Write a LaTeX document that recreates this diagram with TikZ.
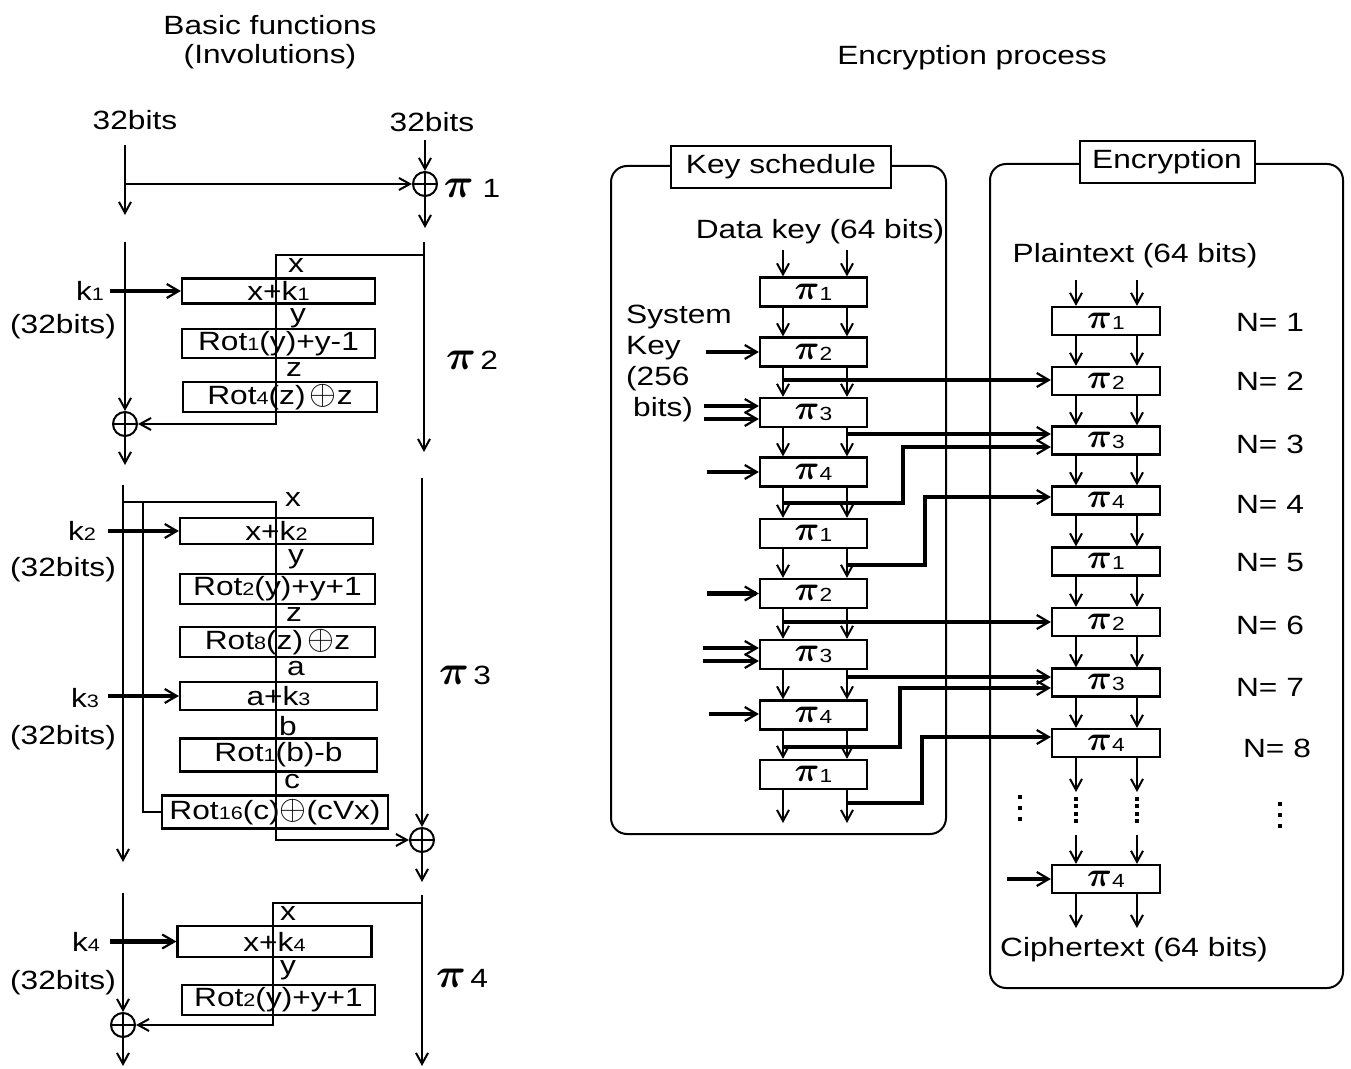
\documentclass[tikz,border=0pt]{standalone}
\usepackage{amsmath,bm}
\usepackage{fontspec}
\setmainfont{Liberation Sans}[FakeStretch=1.2]
\usetikzlibrary{arrows.meta,calc}
\newcommand{\sbd}[1]{{\fontsize{9}{9}\selectfont #1}}
\newcommand{\xop}{{\fontsize{17}{17}\selectfont$\oplus$}}
\newcommand{\pisym}{{\fontsize{20}{20}\selectfont$\bm{\pi}$}}
\newcommand{\pibox}{{\fontsize{19}{19}\selectfont$\bm{\pi}$}}
\newcommand{\boxpi}[1]{\pibox\raisebox{-0.5pt}{\fontsize{9.5}{9.5}\selectfont #1}}
\tikzset{
  every node/.style={font=\fontsize{13.2}{15.5}\selectfont, inner sep=0pt},
  ln/.style={line width=1pt},
  arr/.style={line width=1pt, -{Straight Barb[length=5.5pt,width=6pt]}},
  tarr/.style={line width=2.1pt, -{Straight Barb[length=6pt,width=7pt,line width=1.1pt]}},
  fbox/.style={draw, line width=1.1pt, inner sep=0pt},
  rbox/.style={draw, line width=1pt, rounded corners=8pt},
  tbox/.style={draw, line width=1pt, fill=white, minimum height=21pt},
  xor/.style={circle, draw, line width=1pt, minimum size=12pt,
    path picture={\draw[line width=1pt] (path picture bounding box.north) -- (path picture bounding box.south)
       (path picture bounding box.west) -- (path picture bounding box.east);}},
  dots/.style={line width=2pt, dash pattern=on 2pt off 3.5pt},
  dots4/.style={line width=2pt, dash pattern=on 2pt off 1.7pt},
}
\begin{document}
\begin{tikzpicture}[x=0.5pt,y=-0.5pt]
\useasboundingbox (0,0) rectangle (1351,1069);

% ---------- titles ----------
\node (t1) at (270,25) {Basic functions};
\node (t2) at (270,57) {(Involutions)};
\node (t3) at (972,58) {Encryption process};

% ---------- pi1 ----------
\node (b32l) at (135,120) {32bits};
\node (b32r) at (432,122) {32bits};
\node[xor] (x1) at (425,184) {};
\coordinate (a1) at (125,145);
\coordinate (a2) at (125,215);
\coordinate (a3) at (425,140);
\coordinate (a4) at (425,228);
\draw[arr] (a1) -- (a2);
\draw[arr] (a3) -- (x1.north);
\draw[arr] (x1.south) -- (a4);
\draw[arr] (a1 |- x1) -- (x1.west);
\node (pl1) at (472,188) {\pisym\ 1};

% ---------- pi2 ----------
\node[xor] (x2) at (125,424) {};
\coordinate (c1) at (125,242);
\coordinate (c2) at (125,465);
\coordinate (c3) at (424,242);
\coordinate (c4) at (424,452);
\coordinate (c5) at (424,255);
\coordinate (c6) at (276,255);
\draw[arr] (c1) -- (x2.north);
\draw[arr] (x2.south) -- (c2);
\draw[arr] (c3) -- (c4);
\node[fbox, minimum width=96.5pt, minimum height=12.5pt] (A1) at (278.5,291) {x+k\sbd{1}};
\node[fbox, minimum width=96.5pt, minimum height=14.5pt] (A2) at (278.5,343.5) {Rot\sbd{1}(y)+y-1};
\node[fbox, minimum width=97pt, minimum height=15pt] (A3) at (280,397) {Rot\sbd{4}(z)\,\xop z};
\draw[arr] (c5) -- (c6) -- (c6 |- x2) -- (x2.east);
\node (k1) at (90,291) {k\sbd{1}};
\coordinate (k1s) at (110,291);
\draw[tarr] (k1s) -- (A1.west);
\node (kb1) at (63,327) {(32bits)};
\node (lx2) at (296,266) {x};
\node (ly2) at (298,318) {y};
\node (lz2) at (294,370) {z};
\node (pl2) at (472,360) {\pisym\,2};

% ---------- pi3 ----------
\node[xor] (x3) at (422,840) {};
\coordinate (d1) at (123,485);
\coordinate (d2) at (123,862);
\coordinate (d3) at (422,478);
\coordinate (d4) at (422,882);
\coordinate (d5) at (123,502);
\coordinate (d6) at (276,502);
\coordinate (d7) at (143,502);
\draw[arr] (d1) -- (d2);
\draw[arr] (d3) -- (x3.north);
\draw[arr] (x3.south) -- (d4);
\node[fbox, minimum width=96.5pt, minimum height=13pt] (B1) at (276.5,531) {x+k\sbd{2}};
\node[fbox, minimum width=97.5pt, minimum height=15pt] (B2) at (277.5,589) {Rot\sbd{2}(y)+y+1};
\node[fbox, minimum width=97.5pt, minimum height=15pt] (B3) at (277.5,642) {Rot\sbd{8}(z)\,\xop z};
\node[fbox, minimum width=98.5pt, minimum height=14pt] (B4) at (278.5,696) {a+k\sbd{3}};
\node[fbox, minimum width=98.5pt, minimum height=16.5pt] (B5) at (278.5,755) {Rot\sbd{1}(b)-b};
\node[fbox, minimum width=113pt, minimum height=16.5pt] (B6) at (275,812) {Rot\sbd{16}(c)\xop(cVx)};
\draw[arr] (d5) -- (d6) -- (d6 |- x3) -- (x3.west);
\draw[ln] (d7) -- (d7 |- B6.west) -- (B6.west);
\node (k2) at (82,531) {k\sbd{2}};
\coordinate (k2s) at (108,531);
\draw[tarr] (k2s) -- (B1.west);
\node (kb2) at (63,570) {(32bits)};
\node (k3) at (85,698) {k\sbd{3}};
\coordinate (k3s) at (108,696);
\draw[tarr] (k3s) -- (B4.west);
\node (kb3) at (63,738) {(32bits)};
\node (lx3) at (293,500) {x};
\node (ly3) at (296,559) {y};
\node (lz3) at (294,615) {z};
\node (la3) at (296,669) {a};
\node (lb3) at (288,726) {b};
\node (lc3) at (292,782) {c};
\node (pl3) at (465,675) {\pisym\,3};

% ---------- pi4 ----------
\node[xor] (x4) at (123,1025) {};
\coordinate (e1) at (123,893);
\coordinate (e2) at (123,1066);
\coordinate (e3) at (422,895);
\coordinate (e4) at (422,1066);
\coordinate (e5) at (422,903);
\coordinate (e6) at (273,903);
\draw[arr] (e1) -- (x4.north);
\draw[arr] (x4.south) -- (e2);
\draw[arr] (e3) -- (e4);
\node[fbox, minimum width=97pt, minimum height=15.5pt] (C1) at (274.5,941.5) {x+k\sbd{4}};
\node[fbox, minimum width=96.5pt, minimum height=15pt] (C2) at (278.5,1000) {Rot\sbd{2}(y)+y+1};
\draw[arr] (e5) -- (e6) -- (e6 |- x4) -- (x4.east);
\node (k4) at (86,942) {k\sbd{4}};
\coordinate (k4s) at (110,941.5);
\draw[tarr] (k4s) -- (C1.west);
\node (kb4) at (63,983) {(32bits)};
\node (lx4) at (288,914) {x};
\node (ly4) at (288,970) {y};
\node (pl4) at (462,978) {\pisym\,4};

% ---------- key schedule ----------
\node[rbox, minimum width=167.5pt, minimum height=334pt] (KS) at (778.5,500) {};
\node[tbox, minimum width=110pt] (KST) at (781,167) {Key schedule};
\node (dk) at (820,232) {Data key (64 bits)};
\node[align=left, font=\fontsize{13.2}{15.5}\selectfont] (sysk) at (679,364) {System\\Key\\(256\\\hspace*{3.5pt}bits)};
\foreach \n/\y/\k in {1/292/1,2/352/2,3/412.5/3,4/472/4,5/533.5/1,6/593.5/2,7/654.5/3,8/715/4,9/774.5/1}
  \node[fbox, minimum width=53.5pt, minimum height=14.5pt] (K\n) at (813.5,\y) {\boxpi{\k}};
\foreach \a/\b in {1/2,2/3,3/4,4/5,5/6,6/7,7/8,8/9} {
  \draw[arr] ($(K\a.south)+(-30.5,0)$) -- ($(K\b.north)+(-30.5,0)$);
  \draw[arr] ($(K\a.south)+(33.5,0)$) -- ($(K\b.north)+(33.5,0)$);
}
\coordinate (ki1) at (783,250);
\coordinate (ki2) at (847,250);
\draw[arr] (ki1) -- (ki1 |- K1.north);
\draw[arr] (ki2) -- (ki2 |- K1.north);
\coordinate (ko1) at (783,823);
\coordinate (ko2) at (847,823);
\draw[arr] (ko1 |- K9.south) -- (ko1);
\draw[arr] (ko2 |- K9.south) -- (ko2);
% system key inputs
\coordinate (sk2) at (706,352);
\coordinate (sk3a) at (704,406);
\coordinate (sk3b) at (704,419);
\coordinate (sk4) at (707,472);
\coordinate (sk6) at (707,593.5);
\coordinate (sk7a) at (703,648);
\coordinate (sk7b) at (703,661);
\coordinate (sk8) at (709,714);
\foreach \c/\k in {sk2/K2,sk3a/K3,sk3b/K3,sk4/K4,sk6/K6,sk7a/K7,sk7b/K7,sk8/K8}
  \draw[tarr] (\c) -- (\k.west |- \c);

% ---------- encryption ----------
\node[rbox, minimum width=176.5pt, minimum height=412pt] (EN) at (1166.5,576) {};
\node[tbox, minimum width=87.5pt] (ENT) at (1167,162) {Encryption};
\node (pt) at (1135,256) {Plaintext (64 bits)};
\node (ct) at (1134,950) {Ciphertext (64 bits)};
\foreach \n/\y/\k in {1/321/1,2/381/2,3/440.5/3,4/500.5/4,5/561.5/1,6/622/2,7/682.5/3,8/743/4,9/879/4}
  \node[fbox, minimum width=54pt, minimum height=14pt] (E\n) at (1106,\y) {\boxpi{\k}};
\foreach \a/\b in {1/2,2/3,3/4,4/5,5/6,6/7,7/8} {
  \draw[arr] ($(E\a.south)+(-30,0)$) -- ($(E\b.north)+(-30,0)$);
  \draw[arr] ($(E\a.south)+(31,0)$) -- ($(E\b.north)+(31,0)$);
}
\coordinate (ei1) at (1076,280);
\coordinate (ei2) at (1137,280);
\draw[arr] (ei1) -- (ei1 |- E1.north);
\draw[arr] (ei2) -- (ei2 |- E1.north);
\coordinate (em1) at (1076,792);
\coordinate (em2) at (1137,792);
\draw[arr] (em1 |- E8.south) -- (em1);
\draw[arr] (em2 |- E8.south) -- (em2);
\coordinate (en1) at (1076,835);
\coordinate (en2) at (1137,835);
\draw[arr] (en1) -- (en1 |- E9.north);
\draw[arr] (en2) -- (en2 |- E9.north);
\coordinate (eo1) at (1076,928);
\coordinate (eo2) at (1137,928);
\draw[arr] (eo1 |- E9.south) -- (eo1);
\draw[arr] (eo2 |- E9.south) -- (eo2);
% dots
\coordinate (dl1) at (1020,795); \coordinate (dl2) at (1020,824);
\coordinate (dm1) at (1076,797); \coordinate (dm2) at (1076,824);
\coordinate (dr1) at (1137,797); \coordinate (dr2) at (1137,824);
\coordinate (dn1) at (1280,802); \coordinate (dn2) at (1280,831);
\draw[dots] (dl1) -- (dl2);
\draw[dots4] (dm1) -- (dm2);
\draw[dots4] (dr1) -- (dr2);
\draw[dots] (dn1) -- (dn2);
\coordinate (ek9) at (1007,879);
\draw[tarr] (ek9) -- (E9.west);
% N labels
\node (n1) at (1270,322) {N= 1};
\node (n2) at (1270,381) {N= 2};
\node (n3) at (1270,444) {N= 3};
\node (n4) at (1270,504) {N= 4};
\node (n5) at (1270,563) {N= 5};
\node (n6) at (1270,625) {N= 6};
\node (n7) at (1270,687) {N= 7};
\node (n8) at (1277,748) {N= 8};

% ---------- key to encryption ----------
\coordinate (s1) at (783,380);
\coordinate (s2) at (847,434);
\coordinate (s3) at (783,503);
\coordinate (s4) at (847,565);
\coordinate (s5) at (783,622);
\coordinate (s6) at (847,677);
\coordinate (s7) at (783,747);
\coordinate (s8) at (847,803);
\coordinate (r3) at (903,447);
\coordinate (r4) at (925,497);
\coordinate (r7) at (900,688);
\coordinate (r8) at (922,737);
\draw[tarr] (s1) -- (E2.west |- s1);
\draw[tarr] (s2) -- (E3.west |- s2);
\draw[tarr] (s3) -- (s3 -| r3) -- (r3) -- (E3.west |- r3);
\draw[tarr] (s4) -- (s4 -| r4) -- (r4) -- (E4.west |- r4);
\draw[tarr] (s5) -- (E6.west |- s5);
\draw[tarr] (s6) -- (E7.west |- s6);
\draw[tarr] (s7) -- (s7 -| r7) -- (r7) -- (E7.west |- r7);
\draw[tarr] (s8) -- (s8 -| r8) -- (r8) -- (E8.west |- r8);
\end{tikzpicture}
\end{document}
